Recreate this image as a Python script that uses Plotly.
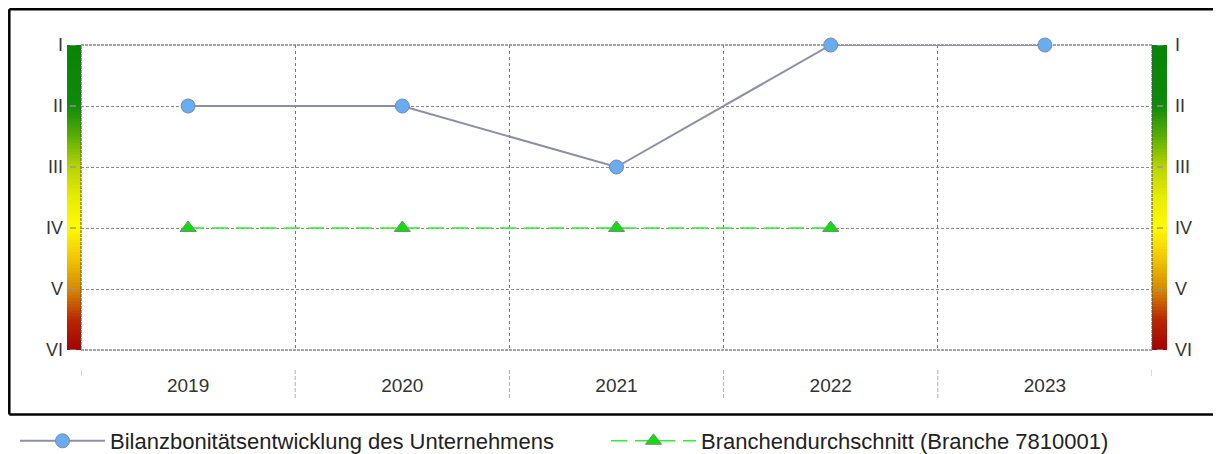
import plotly.graph_objects as go

# ---------------- data ----------------
years = ["2019", "2020", "2021", "2022", "2023"]
levels = ["I", "II", "III", "IV", "V", "VI"]
company_rating = [2, 2, 3, 1, 1]          # II, II, III, I, I
branch_rating = [4, 4, 4, 4, None]        # IV for 2019-2022
company_name = "Bilanzbonitätsentwicklung des Unternehmens"
branch_name = "Branchendurchschnitt (Branche 7810001)"

x_idx = list(range(len(years)))
level_vals = list(range(1, len(levels) + 1))

# ---------------- layout geometry ----------------
# page pixels of the reference; the figure div sits 8px inside the page
OFF = 8
W, H = 1221 - OFF, 454 - OFF
PL, PR, PT, PB = 81, 1152, 45, 350   # plot area edges in page pixels
pw, ph = PR - PL, PB - PT


def px(xp):
    return (xp - PL) / pw


def py(yp):
    return (PB - yp) / ph


fig = go.Figure()

fig.add_trace(go.Scatter(
    x=x_idx, y=company_rating, mode="lines+markers", name=company_name,
    line=dict(color="#8e8ea6", width=2),
    marker=dict(size=14, color="#68acf2", line=dict(color="#7a88a8", width=1)),
    cliponaxis=False, legend="legend", hoverinfo="skip"))

fig.add_trace(go.Scatter(
    x=x_idx, y=branch_rating, mode="lines+markers", name=branch_name,
    line=dict(color="#2ef02e", width=1.6, dash="16px,8px"),
    marker=dict(symbol="triangle-up", size=14, color="#10dc10",
                line=dict(color="#7a8a7a", width=1)),
    cliponaxis=False, legend="legend2", hoverinfo="skip"))

# invisible trace to make right axis render
fig.add_trace(go.Scatter(x=[x_idx[0]], y=[level_vals[0]], yaxis="y2", mode="markers",
                         marker=dict(opacity=0), showlegend=False, hoverinfo="skip"))

# ---------------- colour gradient bars ----------------
stops = [(1.0, (8, 132, 8)), (2.0, (16, 138, 12)), (2.5, (90, 175, 5)),
         (3.0, (185, 212, 0)), (3.5, (232, 236, 0)), (4.0, (255, 250, 0)),
         (4.5, (240, 198, 0)), (5.0, (214, 138, 0)), (5.5, (185, 40, 0)),
         (6.0, (165, 0, 0))]


def col(v):
    for (a, ca), (b, cb) in zip(stops[:-1], stops[1:]):
        if a <= v <= b:
            t = (v - a) / (b - a)
            c = [round(ca[i] + (cb[i] - ca[i]) * t) for i in range(3)]
            return "rgb(%d,%d,%d)" % tuple(c)
    return "rgb(165,0,0)"


shapes = []
n = 100
for k in range(n):
    y0 = 1 + 5 * k / n
    y1 = min(6, 1 + 5 * (k + 1) / n + 0.03)
    c = col(1 + 5 * (k + 0.5) / n)
    for xa, xb in ((px(67), px(PL)), (px(PR), px(1167))):
        shapes.append(dict(type="rect", xref="paper", yref="y", x0=xa, x1=xb,
                           y0=y0, y1=y1, fillcolor=c, line=dict(width=0),
                           layer="below"))

# small grey tick dashes inside the colour bars
for lv in level_vals:
    for xa, xb in ((px(70), px(76)), (px(1157), px(1163))):
        shapes.append(dict(type="line", xref="paper", yref="y", x0=xa, x1=xb,
                           y0=lv, y1=lv, line=dict(color="rgba(150,150,150,0.9)", width=1.5)))

# plot frame (dark dashed)
shapes.append(dict(type="rect", xref="paper", yref="paper", x0=0, x1=1, y0=0, y1=1,
                   line=dict(color="#4a4a4a", width=1, dash="3px,1px"), layer="below"))

# small tick marks below the x axis
for i in range(len(years) + 1):
    xv = i - 0.5
    inner = 0 < i < len(years)
    shapes.append(dict(type="line", xref="x", yref="paper", x0=xv, x1=xv,
                       y0=py(370), y1=py(398 if inner else 376),
                       line=dict(color="#b0b0b0", width=1, dash="4px,2px" if inner else "solid")))

# outer black border: top, left and bottom edges (right edge runs to the page edge)
bx0, bx1 = px(OFF + 1.3), px(1221)
by0, by1 = py(414.5), py(OFF + 1.3)
for (x0, y0, x1, y1) in ((bx0, by1, bx1, by1), (bx0, by0, bx0, by1), (bx0, by0, bx1, by0)):
    shapes.append(dict(type="line", xref="paper", yref="paper", x0=x0, y0=y0, x1=x1, y1=y1,
                       line=dict(color="black", width=2.5)))

fig.update_layout(
    width=W, height=H,
    margin=dict(l=PL - OFF, r=W - (PR - OFF), t=PT - OFF, b=H - (PB - OFF), pad=0,
                autoexpand=False),
    paper_bgcolor="white", plot_bgcolor="white",
    font=dict(family="Arial, Liberation Sans, sans-serif", color="#222"),
    shapes=shapes,
    xaxis=dict(range=[-0.5, len(years) - 0.5], tickvals=x_idx, ticktext=years,
               showgrid=False, zeroline=False, showline=False, ticks="",
               automargin=False,
               tickfont=dict(size=19, color="#333"), ticklabelstandoff=22,
               minor=dict(tickvals=[i + 0.5 for i in range(len(years) - 1)],
                          showgrid=True, gridcolor="#7a7a7a", gridwidth=1,
                          griddash="3px,3px", ticks=""),
               fixedrange=True),
    yaxis=dict(range=[6, 1], tickvals=level_vals, ticktext=levels,
               showgrid=True, gridcolor="#8c8c8c", gridwidth=1, griddash="3px,2px",
               zeroline=False, showline=False, ticks="", automargin=False,
               tickfont=dict(size=18, color="#333"), ticklabelstandoff=17),
    yaxis2=dict(range=[6, 1], tickvals=level_vals, ticktext=levels, overlaying="y",
                side="right", showgrid=False, zeroline=False, showline=False, ticks="",
                automargin=False,
                tickfont=dict(size=18, color="#333"), ticklabelstandoff=22),
    legend=dict(orientation="h", x=px(15), y=py(441), xanchor="left", yanchor="middle",
                font=dict(size=22, color="#222"), itemwidth=85,
                bgcolor="rgba(0,0,0,0)"),
    legend2=dict(orientation="h", x=px(606), y=py(441), xanchor="left", yanchor="middle",
                 font=dict(size=22, color="#222"), itemwidth=85,
                 bgcolor="rgba(0,0,0,0)"),
    showlegend=True,
)

fig.write_html("out.html")
